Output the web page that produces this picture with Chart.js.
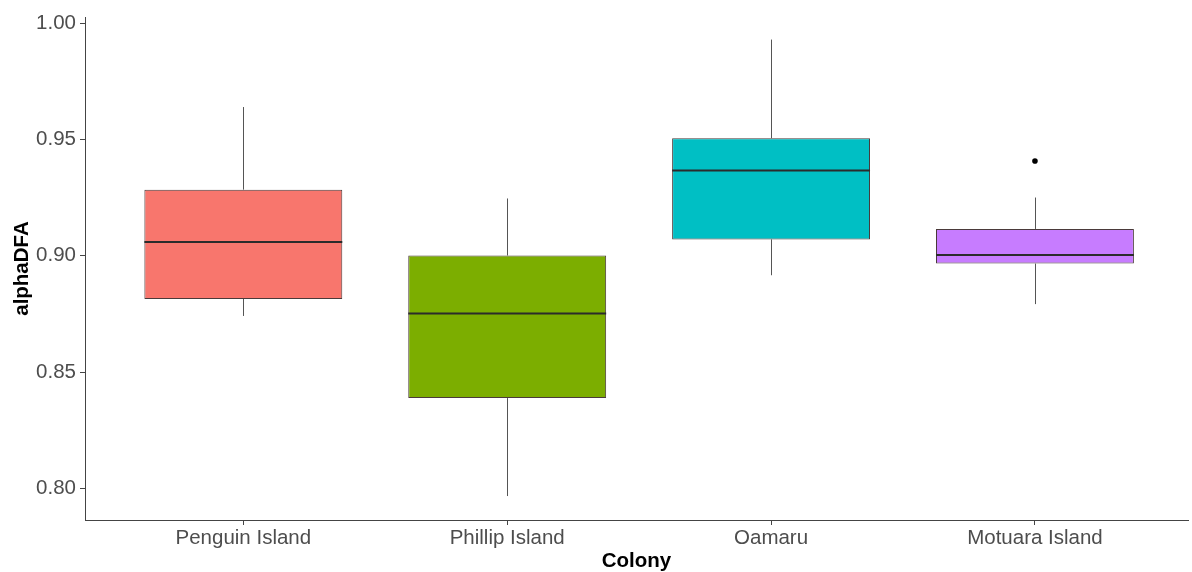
<!DOCTYPE html>
<html>
<head>
<meta charset="utf-8">
<script src="https://cdn.jsdelivr.net/npm/chart.js@4.4.1/dist/chart.umd.min.js"></script>
<style>
  html, body { margin: 0; padding: 0; background: #ffffff; }
  #wrap { width: 1192px; height: 572px; position: relative; }
</style>
</head>
<body>
<div id="wrap"><canvas id="c" width="1192" height="572"></canvas></div>
<script>
// ---- data ----
const categories  = ["Penguin Island", "Phillip Island", "Oamaru", "Motuara Island"];
const whiskerLow  = [0.8741, 0.7967, 0.8916, 0.8792];
const q1          = [0.8814, 0.8388, 0.9070, 0.8966];
const median      = [0.9059, 0.8752, 0.9366, 0.9003];
const q3          = [0.9284, 0.9001, 0.9505, 0.9115];
const whiskerHigh = [0.9639, 0.9246, 0.9929, 0.9250];
const outlierCat  = [4];
const outlierVal  = [0.9407];
const yTicks      = [0.80, 0.85, 0.90, 0.95, 1.00];

// ---- styles ----
const fillColors = ["#F8766D", "#7CAE00", "#00BFC4", "#C77CFF"];

const boxData = categories.map((c, i) => ({ x: i + 1, y: [q1[i], q3[i]] }));
const outlierData = outlierCat.map((c, i) => ({ x: c, y: outlierVal[i] }));

const boxExtras = {
  id: 'boxExtras',
  beforeDatasetsDraw(chart) {
    const { ctx, scales: { x, y } } = chart;
    ctx.save();
    ctx.strokeStyle = '#555555';
    ctx.lineWidth = 1;
    categories.forEach((c, i) => {
      const px = Math.round(x.getPixelForValue(i + 1)) + 0.5;
      ctx.beginPath();
      ctx.moveTo(px, y.getPixelForValue(whiskerHigh[i]));
      ctx.lineTo(px, y.getPixelForValue(q3[i]));
      ctx.moveTo(px, y.getPixelForValue(q1[i]));
      ctx.lineTo(px, y.getPixelForValue(whiskerLow[i]));
      ctx.stroke();
    });
    ctx.restore();
  },
  afterDatasetsDraw(chart) {
    const { ctx, scales: { x, y } } = chart;
    const meta = chart.getDatasetMeta(0);
    ctx.save();
    ctx.strokeStyle = '#2b2b2b';
    ctx.lineWidth = 2;
    meta.data.forEach((bar, i) => {
      const half = bar.width / 2;
      const py = y.getPixelForValue(median[i]);
      ctx.beginPath();
      ctx.moveTo(bar.x - half, py);
      ctx.lineTo(bar.x + half, py);
      ctx.stroke();
    });
    ctx.restore();
  }
};

new Chart(document.getElementById('c'), {
  type: 'bar',
  data: {
    datasets: [
      {
        type: 'bar',
        data: boxData,
        backgroundColor: fillColors,
        borderColor: '#4a3a3a',
        borderWidth: 1,
        borderSkipped: false,
        categoryPercentage: 1.0,
        barPercentage: 0.75
      },
      {
        type: 'scatter',
        data: outlierData,
        pointRadius: 2.8,
        pointBackgroundColor: '#000000',
        pointBorderWidth: 0
      }
    ]
  },
  options: {
    responsive: false,
    animation: false,
    events: [],
    layout: { padding: { top: 17, right: 0, left: 0, bottom: 0 } },
    plugins: { legend: { display: false }, tooltip: { enabled: false } },
    scales: {
      x: {
        type: 'linear',
        min: 0.4,
        max: 4.58,
        offset: false,
        afterBuildTicks: s => { s.ticks = categories.map((c, i) => ({ value: i + 1 })); },
        afterFit: s => { s.height = 52; },
        ticks: {
          autoSkip: false,
          maxRotation: 0,
          padding: 1,
          color: '#4d4d4d',
          font: { family: 'Liberation Sans, Arial, sans-serif', size: 20.5 },
          callback: v => categories[v - 1]
        },
        grid: { display: true, offset: false, drawOnChartArea: false, drawTicks: true, tickLength: 5, color: '#444444' },
        border: { display: true, color: '#444444', width: 1 },
        title: {
          display: true,
          text: 'Colony',
          color: '#000000',
          padding: 0,
          font: { family: 'Liberation Sans, Arial, sans-serif', size: 20.5, weight: 'bold', lineHeight: 1 }
        }
      },
      y: {
        type: 'linear',
        min: 0.7864,
        max: 1.0026,
        afterBuildTicks: s => { s.ticks = yTicks.map(v => ({ value: v })); },
        afterFit: s => { s.width = 85; },
        ticks: {
          padding: 4,
          color: '#4d4d4d',
          font: { family: 'Liberation Sans, Arial, sans-serif', size: 20.5 },
          callback: v => v.toFixed(2)
        },
        grid: { display: true, drawOnChartArea: false, drawTicks: true, tickLength: 5, color: '#444444' },
        border: { display: true, color: '#444444', width: 1 },
        title: {
          display: true,
          text: 'alphaDFA',
          color: '#000000',
          padding: { top: 12, bottom: 0 },
          font: { family: 'Liberation Sans, Arial, sans-serif', size: 20.5, weight: 'bold', lineHeight: 1 }
        }
      }
    }
  },
  plugins: [boxExtras]
});
</script>
</body>
</html>
